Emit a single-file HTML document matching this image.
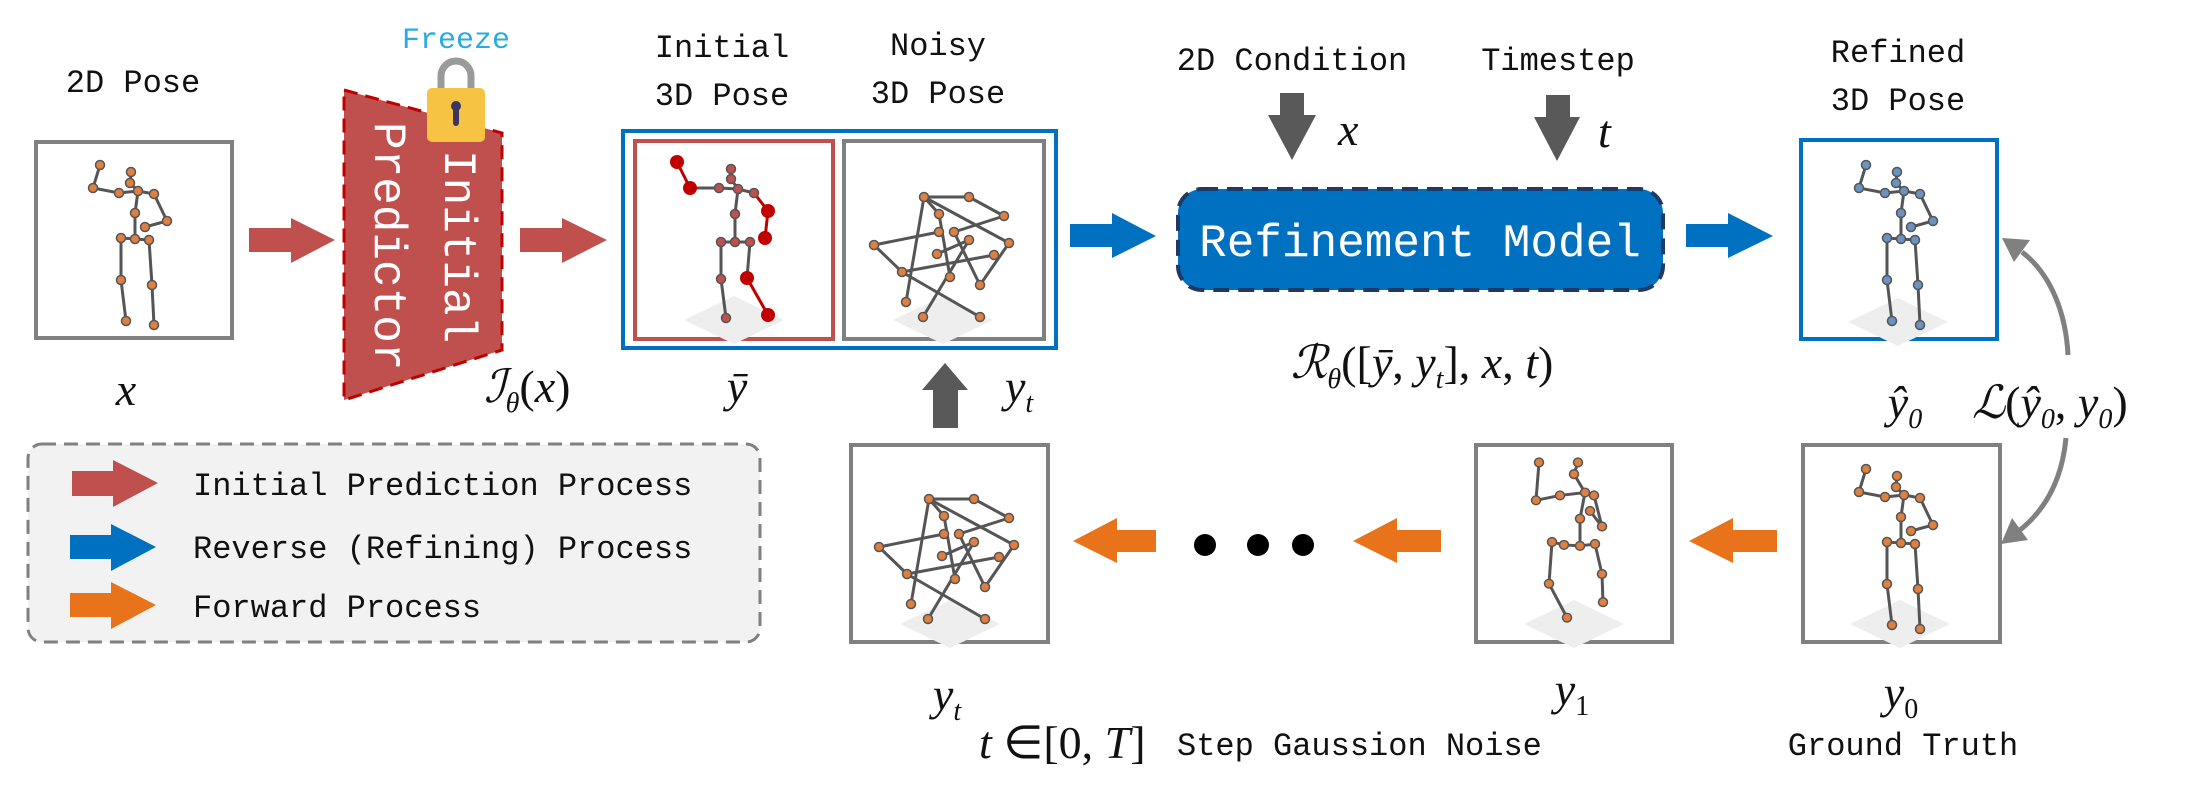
<!DOCTYPE html>
<html><head><meta charset="utf-8"><style>
html,body{margin:0;padding:0;background:#fff;}
svg{display:block}
.lb{font-family:"Liberation Mono",monospace;font-size:32px;fill:#111;}
.m{font-family:"Liberation Serif",serif;font-style:italic;font-size:46px;fill:#111;}
</style></head><body>
<svg width="2197" height="795" viewBox="0 0 2197 795" xmlns="http://www.w3.org/2000/svg">
<defs>
<g id="sk">
 <g stroke="#555" stroke-width="3" fill="none">
 <polyline points="66,25 59,48 85,53 104,51 120,54 133,81 111,87"/>
 <polyline points="97,32 96,43 104,51 101,73 101,99"/>
 <polyline points="87,140 87,98 101,99 115,100 118,145 120,185"/>
 <line x1="87" y1="140" x2="92" y2="181"/>
 </g>
 <g stroke="#555" stroke-width="1.5">
 <circle cx="66" cy="25" r="4.5"/><circle cx="59" cy="48" r="4.5"/><circle cx="85" cy="53" r="4.5"/><circle cx="104" cy="51" r="4.5"/><circle cx="97" cy="32" r="4.5"/><circle cx="96" cy="43" r="4.5"/><circle cx="120" cy="54" r="4.5"/><circle cx="133" cy="81" r="4.5"/><circle cx="111" cy="87" r="4.5"/><circle cx="101" cy="73" r="4.5"/><circle cx="101" cy="99" r="4.5"/><circle cx="87" cy="98" r="4.5"/><circle cx="115" cy="100" r="4.5"/><circle cx="87" cy="140" r="4.5"/><circle cx="118" cy="145" r="4.5"/><circle cx="92" cy="181" r="4.5"/><circle cx="120" cy="185" r="4.5"/>
 </g>
</g>
<g id="nz">
 <g stroke="#555" stroke-width="3" fill="none">
 <line x1="80" y1="55" x2="125" y2="55"/><line x1="80" y1="55" x2="95" y2="72"/><line x1="80" y1="55" x2="62" y2="160"/>
 <line x1="125" y1="55" x2="160" y2="74"/><line x1="160" y1="74" x2="110" y2="90"/><line x1="30" y1="103" x2="95" y2="90"/>
 <line x1="30" y1="103" x2="58" y2="130"/><line x1="58" y1="130" x2="150" y2="113"/><line x1="125" y1="98" x2="93" y2="112"/>
 <line x1="80" y1="55" x2="165" y2="101"/><line x1="165" y1="101" x2="136" y2="143"/><line x1="58" y1="130" x2="136" y2="175"/>
 <line x1="110" y1="90" x2="136" y2="143"/><line x1="125" y1="98" x2="79" y2="175"/><line x1="95" y1="72" x2="106" y2="135"/>
 </g>
 <g stroke="#555" stroke-width="1.5">
 <circle cx="80" cy="55" r="4.5"/><circle cx="125" cy="55" r="4.5"/><circle cx="95" cy="72" r="4.5"/><circle cx="160" cy="74" r="4.5"/><circle cx="110" cy="90" r="4.5"/><circle cx="95" cy="90" r="4.5"/><circle cx="30" cy="103" r="4.5"/><circle cx="93" cy="112" r="4.5"/><circle cx="125" cy="98" r="4.5"/><circle cx="165" cy="101" r="4.5"/><circle cx="150" cy="113" r="4.5"/><circle cx="58" cy="130" r="4.5"/><circle cx="106" cy="135" r="4.5"/><circle cx="136" cy="143" r="4.5"/><circle cx="62" cy="160" r="4.5"/><circle cx="79" cy="175" r="4.5"/><circle cx="136" cy="175" r="4.5"/>
 </g>
</g>
<polygon id="gd" points="100,158 150,182 100,206 50,182" fill="#eee"/>
</defs>

<!-- 2D pose -->
<text class="lb" x="133" y="92" text-anchor="middle">2D Pose</text>
<rect x="36" y="142" width="196" height="196" fill="#fff" stroke="#808080" stroke-width="4"/>
<g transform="translate(34,140)" fill="#e08040"><use href="#sk"/></g>
<text class="m" x="126" y="405" text-anchor="middle">x</text>

<!-- red arrows -->
<polygon points="249,228 291,228 291,218 335,240 291,263 291,252 249,252" fill="#c0504d"/>
<polygon points="520,228 562,228 562,218 607,240 562,263 562,252 520,252" fill="#c0504d"/>

<!-- predictor -->
<polygon points="344,90 502,133 502,350 344,400" fill="#c0504d" stroke="#c00000" stroke-width="3" stroke-dasharray="14,8"/>
<text x="0" y="0" transform="translate(445,150) rotate(90)" font-family="Liberation Mono,monospace" font-size="46" fill="#fff">Initial</text>
<text x="0" y="0" transform="translate(375,122) rotate(90)" font-family="Liberation Mono,monospace" font-size="46" fill="#fff">Predictor</text>
<text x="456" y="48" text-anchor="middle" font-family="Liberation Mono,monospace" font-size="30" fill="#29abe2">Freeze</text>
<path d="M441,90 V76 a15,15 0 0 1 30,0 V90" fill="none" stroke="#9a9a9a" stroke-width="7"/>
<rect x="427" y="88" width="58" height="54" rx="5" fill="#f6c342"/>
<circle cx="456" cy="106" r="5" fill="#3c3563"/><rect x="453" y="106" width="6" height="20" rx="3" fill="#3c3563"/>
<text class="m" x="484" y="402" font-size="44">ℐ<tspan font-size="28" dy="10">θ</tspan><tspan dy="-10" font-style="normal">(</tspan>x<tspan font-style="normal">)</tspan></text>

<!-- initial / noisy -->
<text class="lb" x="722" y="57" text-anchor="middle">Initial</text>
<text class="lb" x="722" y="105" text-anchor="middle">3D Pose</text>
<text class="lb" x="938" y="55" text-anchor="middle">Noisy</text>
<text class="lb" x="938" y="103" text-anchor="middle">3D Pose</text>
<rect x="623" y="131" width="433" height="217" fill="#fff" stroke="#0070c0" stroke-width="4"/>
<rect x="635" y="141" width="198" height="198" fill="#fff" stroke="#c0504d" stroke-width="4"/>
<rect x="844" y="141" width="200" height="198" fill="#fff" stroke="#808080" stroke-width="4"/>
<use href="#gd" x="634" y="138"/>
<use href="#gd" x="843" y="138"/>
<g transform="translate(633,139)">
 <g stroke="#555" stroke-width="3" fill="none">
 <polyline points="57,49 86,49 105,50 121,54"/>
 <polyline points="98,30 98,40 105,50 102,75 102,103"/>
 <polyline points="88,103 102,103 117,103"/>
 <polyline points="88,103 88,140 93,179"/>
 <line x1="117" y1="103" x2="114" y2="139"/>
 </g>
 <g stroke="#c00000" stroke-width="3" fill="none"><polyline points="44,23 57,49"/><polyline points="121,54 135,72 132,99"/><polyline points="114,139 135,176"/></g>
 <g fill="#c00000"><circle cx="44" cy="23" r="7"/><circle cx="57" cy="49" r="7"/><circle cx="135" cy="72" r="7"/><circle cx="132" cy="99" r="7"/><circle cx="114" cy="139" r="7"/><circle cx="135" cy="176" r="7"/></g>
 <g stroke="#555" stroke-width="1.5" fill="#c0504d"><circle cx="98" cy="30" r="4.5"/><circle cx="98" cy="40" r="4.5"/><circle cx="105" cy="50" r="4.5"/><circle cx="86" cy="49" r="4.5"/><circle cx="121" cy="54" r="4.5"/><circle cx="102" cy="75" r="4.5"/><circle cx="88" cy="103" r="4.5"/><circle cx="102" cy="103" r="4.5"/><circle cx="117" cy="103" r="4.5"/><circle cx="88" cy="140" r="4.5"/><circle cx="93" cy="179" r="4.5"/></g>
</g>
<use href="#nz" x="844" y="142" fill="#e08040"/>
<text class="m" x="737" y="402" text-anchor="middle">ȳ</text>
<text class="m" x="1005" y="402">y<tspan font-size="28" dy="10">t</tspan></text>
<polygon points="933,428 958,428 958,390 968,390 945,363 922,390 933,390" fill="#595959"/>

<!-- blue arrows -->
<polygon points="1070,224 1112,224 1112,213 1156,236 1112,258 1112,247 1070,247" fill="#0070c0"/>
<polygon points="1686,224 1728,224 1728,213 1773,236 1728,258 1728,247 1686,247" fill="#0070c0"/>

<!-- refinement -->
<text class="lb" x="1292" y="70" text-anchor="middle">2D Condition</text>
<text class="lb" x="1558" y="70" text-anchor="middle">Timestep</text>
<polygon points="1280,93 1304,93 1304,115 1316,115 1292,160 1268,115 1280,115" fill="#595959"/>
<polygon points="1546,95 1570,95 1570,117 1580,117 1557,161 1534,117 1546,117" fill="#595959"/>
<text class="m" x="1338" y="145">x</text>
<text class="m" x="1598" y="147">t</text>
<rect x="1178" y="189" width="485" height="101" rx="24" fill="#0070c0" stroke="#1f3864" stroke-width="4" stroke-dasharray="16,9"/>
<text x="1420" y="256" text-anchor="middle" font-family="Liberation Mono,monospace" font-size="46" fill="#fff">Refinement Model</text>
<text class="m" x="1422" y="378" text-anchor="middle" font-size="44">ℛ<tspan font-size="28" dy="10">θ</tspan><tspan dy="-10" font-style="normal">([</tspan>ȳ<tspan font-style="normal">, </tspan>y<tspan font-size="28" dy="10">t</tspan><tspan dy="-10" font-style="normal">], </tspan>x<tspan font-style="normal">, </tspan>t<tspan font-style="normal">)</tspan></text>

<!-- refined -->
<text class="lb" x="1898" y="62" text-anchor="middle">Refined</text>
<text class="lb" x="1898" y="110" text-anchor="middle">3D Pose</text>
<rect x="1801" y="140" width="196" height="199" fill="#fff" stroke="#0070c0" stroke-width="4"/>
<use href="#gd" x="1798" y="140"/>
<g transform="translate(1800,140)" fill="#6a93c0"><use href="#sk"/></g>
<text class="m" x="1905" y="418" text-anchor="middle">ŷ<tspan font-size="28" dy="10">0</tspan></text>
<text class="m" x="1972" y="418">ℒ<tspan font-style="normal">(</tspan>ŷ<tspan font-size="28" dy="10">0</tspan><tspan dy="-10" font-style="normal">, </tspan>y<tspan font-size="28" dy="10">0</tspan><tspan dy="-10" font-style="normal">)</tspan></text>
<path d="M2068,355 C2066,315 2052,275 2022,252" fill="none" stroke="#808080" stroke-width="5"/>
<polygon points="2002,238 2030,240 2014,262" fill="#808080"/>
<path d="M2066,438 C2062,480 2045,510 2020,530" fill="none" stroke="#808080" stroke-width="5"/>
<polygon points="2001,544 2012,518 2028,540" fill="#808080"/>

<!-- legend -->
<rect x="28" y="444" width="732" height="198" rx="14" fill="#f2f2f2" stroke="#808080" stroke-width="3" stroke-dasharray="14,8"/>
<polygon points="72,471 113,471 113,460 158,483 113,507 113,496 72,496" fill="#c0504d"/>
<polygon points="70,535 111,535 111,524 156,547 111,571 111,559 70,559" fill="#0070c0"/>
<polygon points="70,593 111,593 111,582 156,605 111,629 111,617 70,617" fill="#e8731a"/>
<text class="lb" x="193" y="495">Initial Prediction Process</text>
<text class="lb" x="193" y="558">Reverse (Refining) Process</text>
<text class="lb" x="193" y="617">Forward Process</text>

<!-- bottom row -->
<rect x="851" y="445" width="197" height="197" fill="#fff" stroke="#808080" stroke-width="4"/>
<use href="#gd" x="850" y="442"/>
<use href="#nz" x="849" y="444" fill="#e08040"/>
<polygon points="1156,530 1117,530 1117,518 1073,541 1117,563 1117,552 1156,552" fill="#e8731a"/>
<circle cx="1205" cy="545" r="11" fill="#000"/><circle cx="1258" cy="545" r="11" fill="#000"/><circle cx="1303" cy="545" r="11" fill="#000"/>
<polygon points="1441,530 1397,530 1397,518 1353,541 1397,563 1397,552 1441,552" fill="#e8731a"/>
<rect x="1476" y="445" width="196" height="197" fill="#fff" stroke="#808080" stroke-width="4"/>
<use href="#gd" x="1474" y="442"/>
<g transform="translate(1474,445) scale(1,0.97)" fill="#e08040">
 <g stroke="#555" stroke-width="3" fill="none">
 <polyline points="65,18 62,57 86,52 111,49 120,52 128,84 116,68"/>
 <polyline points="104,18 100,30 111,49 106,76 106,104 90,103 78,100 75,143 93,178"/>
 <polyline points="106,104 121,102 128,133 129,162"/>
 </g>
 <g stroke="#555" stroke-width="1.5"><circle cx="65" cy="18" r="4.5"/><circle cx="62" cy="57" r="4.5"/><circle cx="86" cy="52" r="4.5"/><circle cx="111" cy="49" r="4.5"/><circle cx="120" cy="52" r="4.5"/><circle cx="128" cy="84" r="4.5"/><circle cx="116" cy="68" r="4.5"/><circle cx="104" cy="18" r="4.5"/><circle cx="100" cy="30" r="4.5"/><circle cx="106" cy="76" r="4.5"/><circle cx="106" cy="104" r="4.5"/><circle cx="90" cy="103" r="4.5"/><circle cx="78" cy="100" r="4.5"/><circle cx="75" cy="143" r="4.5"/><circle cx="93" cy="178" r="4.5"/><circle cx="121" cy="102" r="4.5"/><circle cx="128" cy="133" r="4.5"/><circle cx="129" cy="162" r="4.5"/></g>
</g>
<polygon points="1777,530 1733,530 1733,518 1689,541 1733,563 1733,552 1777,552" fill="#e8731a"/>
<rect x="1803" y="445" width="197" height="197" fill="#fff" stroke="#808080" stroke-width="4"/>
<use href="#gd" x="1800" y="442"/>
<g transform="translate(1800,444)" fill="#e08040"><use href="#sk"/></g>

<text class="m" x="947" y="710" text-anchor="middle">y<tspan font-size="28" dy="10">t</tspan></text>
<text class="m" x="1572" y="705" text-anchor="middle">y<tspan font-size="28" dy="10" font-style="normal">1</tspan></text>
<text class="m" x="1901" y="708" text-anchor="middle">y<tspan font-size="28" dy="10" font-style="normal">0</tspan></text>
<text class="m" x="979" y="758">t <tspan font-style="normal">∈[0, </tspan>T<tspan font-style="normal">]</tspan></text>
<text class="lb" x="1177" y="755">Step Gaussion Noise</text>
<text class="lb" x="1903" y="755" text-anchor="middle">Ground Truth</text>
</svg>
</body></html>
